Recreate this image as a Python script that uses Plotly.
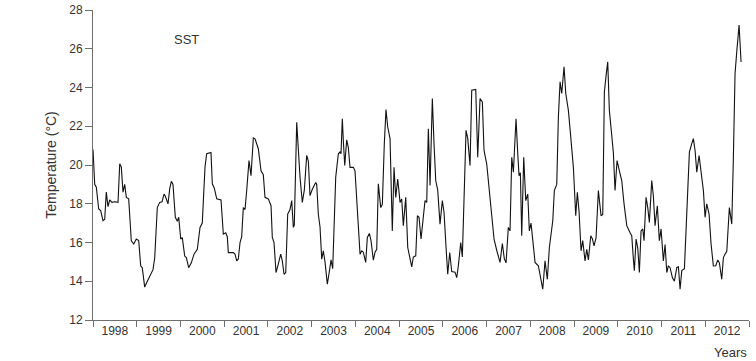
import plotly.graph_objects as go

# Decimal year of each observation
years = [
    1998.000, 1998.039, 1998.076, 1998.130, 1998.176, 1998.229, 1998.268, 1998.304, 1998.343, 1998.382,
    1998.434, 1998.496, 1998.572, 1998.611, 1998.647, 1998.686, 1998.725, 1998.762, 1998.816, 1998.876,
    1998.931, 1998.990, 1999.045, 1999.091, 1999.127, 1999.182, 1999.242, 1999.320, 1999.372, 1999.411,
    1999.470, 1999.525, 1999.578, 1999.624, 1999.653, 1999.715, 1999.754, 1999.791, 1999.829, 1999.882,
    1999.928, 1999.960, 2000.006, 2000.042, 2000.097, 2000.134, 2000.188, 2000.248, 2000.310, 2000.385,
    2000.447, 2000.499, 2000.561, 2000.600, 2000.698, 2000.728, 2000.774, 2000.829, 2000.927, 2000.980,
    2001.035, 2001.071, 2001.094, 2001.208, 2001.247, 2001.286, 2001.323, 2001.362, 2001.400, 2001.437,
    2001.476, 2001.515, 2001.567, 2001.613, 2001.643, 2001.666, 2001.705, 2001.780, 2001.842, 2001.894,
    2001.933, 2002.009, 2002.071, 2002.100, 2002.139, 2002.185, 2002.238, 2002.292, 2002.329, 2002.368,
    2002.407, 2002.452, 2002.505, 2002.544, 2002.581, 2002.603, 2002.658, 2002.695, 2002.734, 2002.786,
    2002.832, 2002.887, 2002.924, 2002.962, 2003.015, 2003.093, 2003.116, 2003.152, 2003.191, 2003.230,
    2003.267, 2003.305, 2003.358, 2003.397, 2003.443, 2003.481, 2003.518, 2003.550, 2003.610, 2003.648,
    2003.671, 2003.701, 2003.724, 2003.756, 2003.801, 2003.838, 2003.877, 2003.953, 2003.991, 2004.053,
    2004.106, 2004.144, 2004.181, 2004.236, 2004.273, 2004.319, 2004.357, 2004.410, 2004.449, 2004.488,
    2004.524, 2004.579, 2004.616, 2004.661, 2004.700, 2004.739, 2004.792, 2004.844, 2004.883, 2004.922,
    2004.968, 2005.021, 2005.059, 2005.096, 2005.151, 2005.197, 2005.249, 2005.288, 2005.325, 2005.380,
    2005.418, 2005.455, 2005.501, 2005.553, 2005.592, 2005.631, 2005.668, 2005.707, 2005.759, 2005.798,
    2005.837, 2005.882, 2005.935, 2005.988, 2006.027, 2006.073, 2006.111, 2006.157, 2006.203, 2006.278,
    2006.317, 2006.354, 2006.409, 2006.445, 2006.491, 2006.530, 2006.569, 2006.621, 2006.660, 2006.752,
    2006.797, 2006.850, 2006.903, 2006.941, 2007.003, 2007.056, 2007.117, 2007.170, 2007.231, 2007.307,
    2007.360, 2007.406, 2007.445, 2007.497, 2007.536, 2007.575, 2007.612, 2007.673, 2007.712, 2007.742,
    2007.772, 2007.803, 2007.849, 2007.895, 2007.941, 2007.977, 2008.016, 2008.069, 2008.108, 2008.183,
    2008.238, 2008.284, 2008.336, 2008.389, 2008.435, 2008.474, 2008.513, 2008.549, 2008.604, 2008.641,
    2008.680, 2008.718, 2008.771, 2008.810, 2008.870, 2008.924, 2008.984, 2009.038, 2009.075, 2009.114,
    2009.160, 2009.198, 2009.251, 2009.290, 2009.327, 2009.382, 2009.418, 2009.457, 2009.503, 2009.556,
    2009.617, 2009.656, 2009.693, 2009.731, 2009.770, 2009.807, 2009.862, 2009.898, 2009.937, 2009.983,
    2010.036, 2010.090, 2010.143, 2010.205, 2010.280, 2010.319, 2010.356, 2010.379, 2010.418, 2010.457,
    2010.493, 2010.532, 2010.571, 2010.600, 2010.646, 2010.685, 2010.722, 2010.776, 2010.813, 2010.852,
    2010.904, 2010.950, 2010.989, 2011.042, 2011.081, 2011.120, 2011.157, 2011.195, 2011.248, 2011.294,
    2011.349, 2011.386, 2011.424, 2011.463, 2011.523, 2011.561, 2011.600, 2011.637, 2011.691, 2011.728,
    2011.767, 2011.806, 2011.858, 2011.904, 2011.957, 2011.995, 2012.034, 2012.087, 2012.133, 2012.185,
    2012.240, 2012.286, 2012.323, 2012.377, 2012.414, 2012.453, 2012.492, 2012.551, 2012.606, 2012.643,
    2012.681, 2012.720, 2012.773, 2012.819,
]

# Sea surface temperature (°C)
sst = [
    20.8, 19.0, 18.85, 17.73, 17.65, 17.12, 17.2, 18.6, 17.85, 18.2,
    18.07, 18.1, 18.07, 20.06, 19.9, 18.6, 19.0, 18.33, 18.25, 16.09,
    15.92, 16.18, 16.1, 14.79, 14.7, 13.7, 14.0, 14.36, 14.6, 15.2,
    17.8, 18.07, 18.1, 18.5, 18.4, 17.99, 18.77, 19.16, 19.0, 17.3,
    17.1, 17.3, 16.18, 16.25, 15.3, 15.22, 14.7, 14.95, 15.4, 15.65,
    16.78, 17.0, 19.9, 20.58, 20.65, 19.03, 18.8, 18.25, 18.2, 16.43,
    16.5, 16.3, 15.48, 15.48, 15.4, 15.05, 15.15, 16.0, 16.3, 17.8,
    17.7, 18.7, 20.23, 19.45, 20.75, 21.4, 21.35, 20.84, 19.7, 19.5,
    18.33, 18.25, 17.9, 16.26, 16.0, 14.45, 14.9, 15.4, 15.05, 14.36,
    14.45, 17.47, 17.7, 18.16, 16.78, 16.9, 22.2, 20.58, 19.37, 18.07,
    18.7, 20.5, 20.2, 18.42, 18.75, 19.1, 19.0, 17.47, 16.8, 15.14,
    15.57, 15.0, 13.85, 14.4, 15.1, 14.65, 17.64, 19.37, 20.58, 20.67,
    20.58, 22.39, 21.25, 19.97, 21.3, 20.9, 19.88, 19.88, 19.7, 17.47,
    15.4, 15.57, 15.5, 14.97, 16.26, 16.47, 16.1, 15.09, 15.5, 15.65,
    19.03, 17.8, 17.97, 21.1, 22.86, 21.96, 21.36, 16.6, 19.88, 18.33,
    19.28, 18.07, 18.25, 16.87, 18.33, 15.74, 15.2, 14.74, 15.25, 15.31,
    17.38, 17.3, 16.18, 17.3, 18.16, 18.07, 21.87, 18.94, 23.43, 21.1,
    19.2, 18.7, 16.95, 18.16, 17.55, 15.74, 14.36, 15.48, 14.5, 14.47,
    14.19, 14.8, 16.0, 15.25, 18.5, 21.79, 21.36, 19.97, 23.86, 23.9,
    20.4, 23.43, 23.25, 20.75, 20.05, 18.68, 17.12, 16.18, 15.6, 14.97,
    15.95, 15.15, 14.95, 16.78, 16.6, 20.4, 19.63, 22.39, 20.6, 19.45,
    19.6, 16.35, 20.4, 18.16, 18.5, 16.6, 17.0, 15.57, 14.97, 14.8,
    14.19, 13.59, 15.05, 14.1, 15.74, 16.5, 17.12, 18.68, 19.0, 22.47,
    24.29, 23.69, 25.07, 23.69, 22.82, 21.45, 19.88, 17.38, 18.59, 17.6,
    15.57, 16.1, 15.05, 15.65, 15.1, 16.35, 16.2, 15.83, 16.25, 18.68,
    17.38, 17.45, 23.77, 24.6, 25.32, 22.82, 21.6, 20.66, 18.68, 20.23,
    19.7, 19.2, 17.99, 16.87, 16.5, 16.35, 15.14, 14.54, 16.18, 15.7,
    14.45, 16.6, 16.7, 16.09, 18.33, 17.8, 17.04, 19.2, 18.4, 16.87,
    17.9, 16.09, 16.7, 15.05, 15.9, 14.45, 14.8, 14.7, 14.19, 14.0,
    14.71, 14.75, 13.59, 14.55, 14.65, 16.78, 18.5, 20.66, 21.1, 21.36,
    20.75, 19.63, 20.49, 19.7, 18.68, 17.3, 18.0, 17.47, 15.92, 14.79,
    14.8, 15.1, 14.95, 14.1, 15.22, 15.4, 15.55, 17.8, 16.95, 20.4,
    24.72, 25.84, 27.22, 25.32,
]

year_bounds = list(range(1998, 2014))
year_labels = [str(y) for y in range(1998, 2013)]
y_ticks = [12, 14, 16, 18, 20, 22, 24, 26, 28]

FONT = "Liberation Sans, Arial, sans-serif"
AX = "#6e6e6e"
TXT = "#333333"

fig = go.Figure()
fig.add_trace(go.Scatter(
    x=years, y=sst, mode="lines",
    line=dict(color="#111111", width=1.1),
    showlegend=False, hoverinfo="skip",
))

fig.update_layout(
    width=756, height=361,
    margin=dict(l=93, r=7, t=10, b=41),
    paper_bgcolor="white", plot_bgcolor="white",
    font=dict(family=FONT, size=12, color=TXT),
    xaxis=dict(
        range=[1998, 2013], automargin=False,
        tickvals=[y + 0.5 for y in range(1998, 2013)],
        ticktext=year_labels,
        ticks="", showgrid=False, zeroline=False,
        showline=True, linecolor=AX, linewidth=1,
        tickfont=dict(family=FONT, size=12, color=TXT),
        minor=dict(tickvals=year_bounds, ticks="outside", ticklen=6,
                   tickcolor=AX, tickwidth=1, showgrid=False),
    ),
    yaxis=dict(
        range=[12, 28], tickvals=y_ticks, automargin=False,
        ticks="outside", ticklen=7, tickcolor=AX, tickwidth=1,
        showgrid=False, zeroline=False,
        showline=True, linecolor=AX, linewidth=1,
        tickfont=dict(family=FONT, size=12, color=TXT),
        title=dict(text="Temperature (°C)", font=dict(family=FONT, size=14, color=TXT), standoff=9),
    ),
    annotations=[
        dict(text="SST", xref="paper", yref="paper", x=0.12, y=0.935,
             showarrow=False, font=dict(family=FONT, size=13, color=TXT)),
        dict(text="Years", xref="paper", yref="paper", x=1.0, y=-0.104,
             xanchor="right", yanchor="middle", showarrow=False,
             font=dict(family=FONT, size=13, color=TXT)),
    ],
)

fig.write_html("out.html", config={"displayModeBar": False},
               post_script="document.body.style.margin='0';")
